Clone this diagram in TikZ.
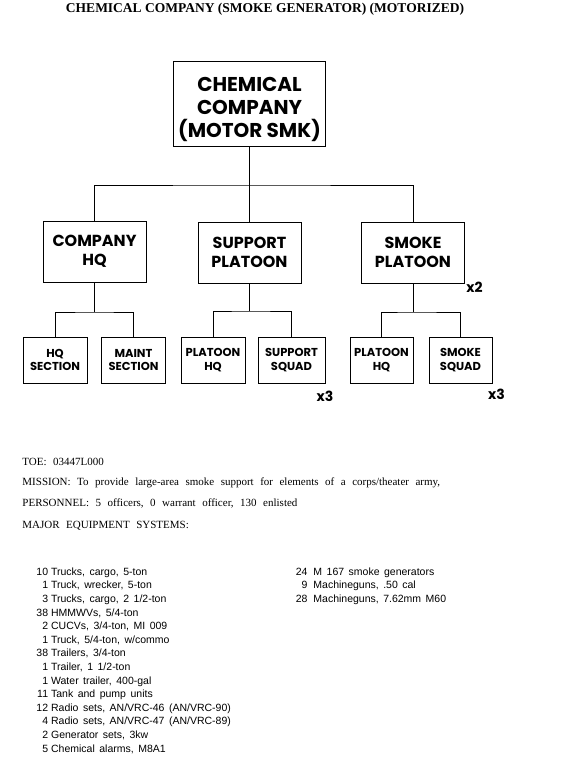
\documentclass[tikz,border=0pt]{standalone}
\usepackage{fontspec}
\newfontfamily\boxfont{Poppins}
\newfontfamily\listfont{Liberation Sans}
\newfontfamily\serfont{Liberation Serif}
\newcommand\serspace{\spaceskip=6.5pt plus 1pt\relax}
\newcommand\listspace{\spaceskip=4.5pt plus 1pt\relax}
\begin{document}
\begin{tikzpicture}[x=1pt,y=-1pt,
  line width=0.9pt,
  orgbox/.style={draw, inner sep=0pt, align=center, font=\boxfont\bfseries},
  bigbox/.style={orgbox, font=\boxfont\bfseries\fontsize{20}{23}\selectfont},
  midbox/.style={orgbox, font=\boxfont\bfseries\fontsize{16}{19.5}\selectfont, minimum width=103, minimum height=61},
  smallbox/.style={orgbox, font=\boxfont\bfseries\fontsize{11.5}{13.5}\selectfont, minimum width=64, minimum height=46},
  mult/.style={font=\boxfont\bfseries\fontsize{14}{16}\selectfont, inner sep=0pt},
  txt/.style={anchor=base west, inner sep=0pt, font=\serfont\fontsize{11}{13}\selectfont},
  listnode/.style={anchor=north west, inner sep=0pt, font=\listfont\fontsize{10.5}{13.6}\selectfont}
]
\useasboundingbox (0,0) rectangle (576,767);

% title
\node[anchor=base, inner sep=0pt, font=\serfont\bfseries\fontsize{13.5}{15}\selectfont] (title) at (265,12.5)
  {CHEMICAL COMPANY (SMOKE GENERATOR) (MOTORIZED)};

% top
\node[bigbox, minimum width=152, minimum height=85] (top) at (249.5,103.5)
  {\rule{0pt}{26pt}CHEMICAL\\COMPANY\\(MOTOR SMK)};

% second level
\node[midbox] (chq) at (94.5,251.5) {COMPANY\\HQ};
\node[midbox] (sup) at (249.5,252.5) {SUPPORT\\PLATOON};
\node[midbox] (smk) at (413,252.5) {SMOKE\\PLATOON};
\node[mult] (x2) at (474.5,287.5) {x2};

\coordinate (bus1) at (249.5,185);
\draw (top.south) -- (sup.north);
\draw (chq.north) |- (bus1) -| (smk.north);

% third level
\node[smallbox] (hqs) at (55,360) {HQ\\SECTION};
\node[smallbox] (mnt) at (133.5,360) {MAINT\\SECTION};
\node[smallbox] (phq1) at (213,360) {PLATOON\\HQ};
\node[smallbox, minimum width=67] (ssq) at (291.5,360) {SUPPORT\\SQUAD};
\node[smallbox, minimum width=63] (phq2) at (381.5,360) {PLATOON\\HQ};
\node[smallbox, minimum width=63] (smq) at (460.5,360) {SMOKE\\SQUAD};
\node[mult] (x3a) at (325,396.5) {x3};
\node[mult] (x3b) at (496.5,394) {x3};

\coordinate (b2) at (94.5,312);
\coordinate (b3) at (249.5,311);
\coordinate (b4) at (413,312);
\draw (chq.south) -- (b2);
\draw (hqs.north) |- (b2) -| (mnt.north);
\draw (sup.south) -- (b3);
\draw (phq1.north) |- (b3) -| (ssq.north);
\draw (smk.south) -- (b4);
\draw (phq2.north) |- (b4) -| (smq.north);

% text
\node[txt] (toe) at (22,465.5) {\serspace TOE: 03447L000};
\node[txt] (mission) at (22,485.5) {\serspace MISSION: To provide large-area smoke support for elements of a corps/theater army,};
\node[txt] (pers) at (22,506.5) {\serspace PERSONNEL: 5 officers, 0 warrant officer, 130 enlisted};
\node[txt] (major) at (22,528.5) {\serspace MAJOR EQUIPMENT SYSTEMS:};

\node[listnode] (eqa) at (36,565.3) {\listspace
\begin{tabular}{@{}r@{\hspace{3pt}}l@{}}
10 & Trucks, cargo, 5-ton\\
1 & Truck, wrecker, 5-ton\\
3 & Trucks, cargo, 2 1/2-ton\\
38 & HMMWVs, 5/4-ton\\
2 & CUCVs, 3/4-ton, MI 009\\
1 & Truck, 5/4-ton, w/commo\\
38 & Trailers, 3/4-ton\\
1 & Trailer, 1 1/2-ton\\
1 & Water trailer, 400-gal\\
11 & Tank and pump units\\
12 & Radio sets, AN/VRC-46 (AN/VRC-90)\\
4 & Radio sets, AN/VRC-47 (AN/VRC-89)\\
2 & Generator sets, 3kw\\
5 & Chemical alarms, M8A1
\end{tabular}};

\node[listnode] (eqb) at (295.3,565.3) {\listspace
\begin{tabular}{@{}r@{\hspace{6pt}}l@{}}
24 & M 167 smoke generators\\
9 & Machineguns, .50 cal\\
28 & Machineguns, 7.62mm M60
\end{tabular}};
\end{tikzpicture}
\end{document}
